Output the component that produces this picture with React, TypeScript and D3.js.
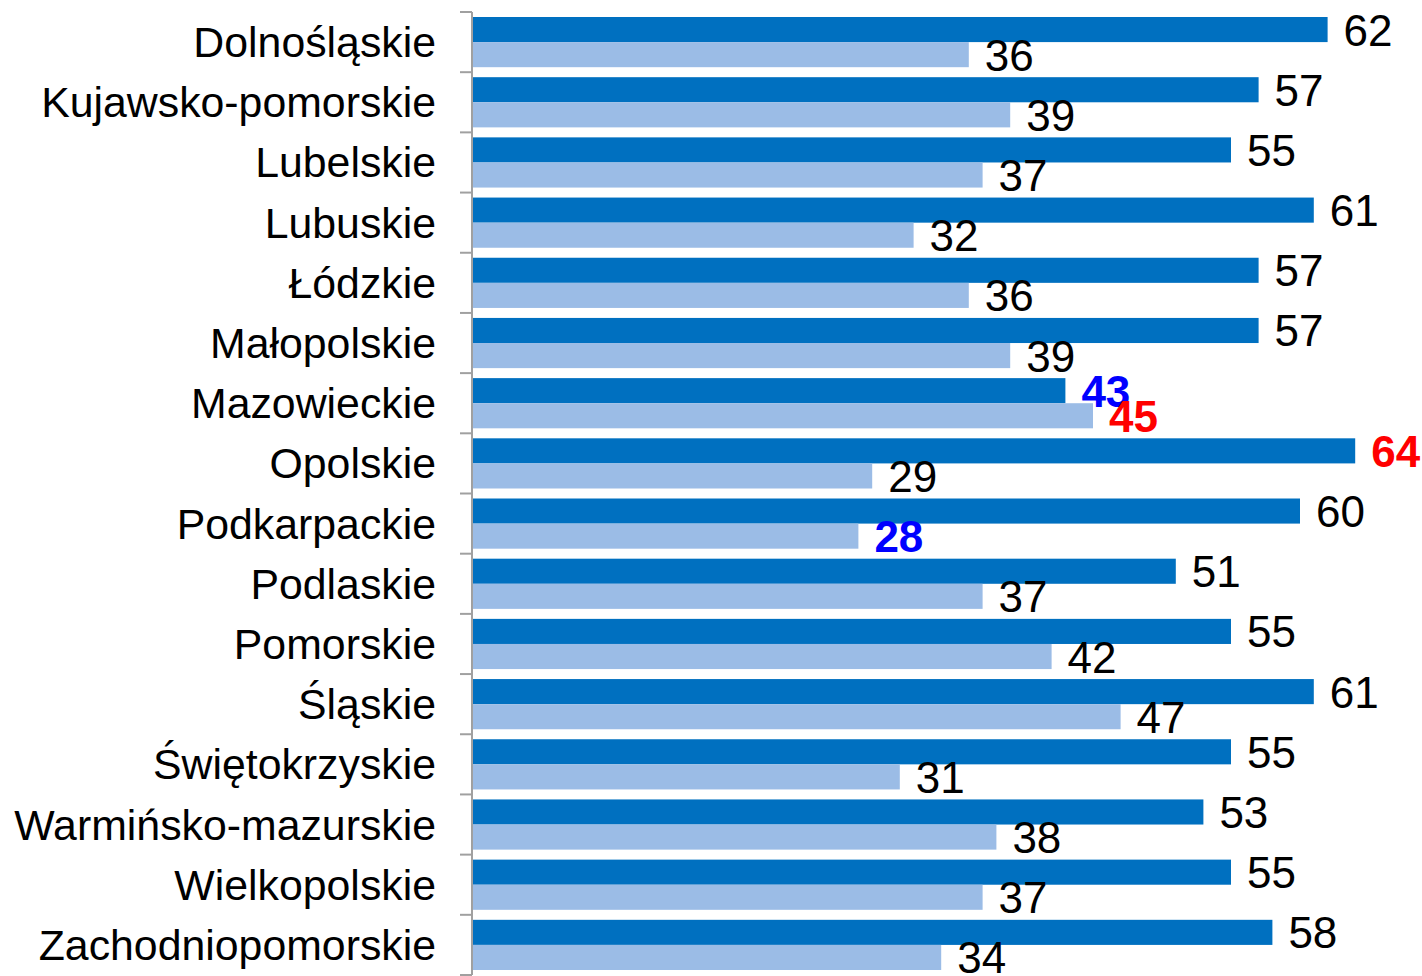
import * as d3 from 'd3'

const CATEGORIES = [
  'Dolnośląskie', 'Kujawsko-pomorskie', 'Lubelskie', 'Lubuskie', 'Łódzkie',
  'Małopolskie', 'Mazowieckie', 'Opolskie', 'Podkarpackie', 'Podlaskie',
  'Pomorskie', 'Śląskie', 'Świętokrzyskie', 'Warmińsko-mazurskie',
  'Wielkopolskie', 'Zachodniopomorskie',
]
const SERIES_A = [62, 57, 55, 61, 57, 57, 43, 64, 60, 51, 55, 61, 55, 53, 55, 58]
const SERIES_B = [36, 39, 37, 32, 36, 39, 45, 29, 28, 37, 42, 47, 31, 38, 37, 34]
// highlighted labels: 'lo' -> blue, 'hi' -> red
const MARKS_A: Record<string, string> = { Mazowieckie: 'lo', Opolskie: 'hi' }
const MARKS_B: Record<string, string> = { Mazowieckie: 'hi', Podkarpackie: 'lo' }

const W = 1422
const H = 976
const AXIS_X = 472
const TOP = 12
const BOTTOM = 975
const FONT = '"Liberation Sans", Arial, sans-serif'
const DARK = '#0070C0'
const LIGHT = '#9BBCE6'

export default function App() {
  const x = d3.scaleLinear().domain([0, 70]).range([AXIS_X, AXIS_X + 70 * 13.8])
  const step = (BOTTOM - TOP) / CATEGORIES.length
  const y = d3.scaleBand<string>()
    .domain(CATEGORIES)
    .range([TOP, BOTTOM])
    .paddingInner(10 / step)
    .paddingOuter(5 / step)
  const tickY = d3.scaleLinear().domain([0, CATEGORIES.length]).range([TOP, BOTTOM])
  const bw = y.bandwidth() / 2

  const labelStyle = (mark?: string) => {
    if (mark === 'hi') return { fill: '#FF0000', weight: 'bold' }
    if (mark === 'lo') return { fill: '#0000FF', weight: 'bold' }
    return { fill: '#000', weight: 'normal' }
  }

  const series = [
    { vals: SERIES_A, marks: MARKS_A, color: DARK, off: 0 },
    { vals: SERIES_B, marks: MARKS_B, color: LIGHT, off: bw },
  ]

  return (
    <div style={{ position: 'absolute', left: 0, top: 0 }}>
      <svg width={W} height={H} style={{ display: 'block', fontFamily: FONT }}>
        <rect width={W} height={H} fill="#fff" />
        {series.map((s, si) => (
          <g key={si}>
            {CATEGORIES.map((c, i) => (
              <rect key={c} x={x(0) + 1} y={(y(c) ?? 0) + s.off}
                width={x(s.vals[i]) - x(0) - 1} height={bw} fill={s.color} />
            ))}
          </g>
        ))}
        {series.map((s, si) => (
          <g key={'l' + si}>
            {CATEGORIES.map((c, i) => {
              const st = labelStyle(s.marks[c])
              return (
                <text key={c} x={x(s.vals[i]) + 16} y={(y(c) ?? 0) + s.off + bw / 2 + 16}
                  fontSize={44} fill={st.fill} fontWeight={st.weight}>
                  {s.vals[i]}
                </text>
              )
            })}
          </g>
        ))}
        <line x1={AXIS_X} x2={AXIS_X} y1={TOP} y2={BOTTOM} stroke="#A0A0A0" strokeWidth={2} />
        {d3.range(CATEGORIES.length + 1).map(i => (
          <line key={i} x1={AXIS_X - 12} x2={AXIS_X} y1={tickY(i)} y2={tickY(i)}
            stroke="#A0A0A0" strokeWidth={2} />
        ))}
        {CATEGORIES.map(c => (
          <text key={c} x={436} y={(y(c) ?? 0) + y.bandwidth() / 2 + 15}
            textAnchor="end" fontSize={42.8} fill="#000">
            {c}
          </text>
        ))}
      </svg>
    </div>
  )
}
